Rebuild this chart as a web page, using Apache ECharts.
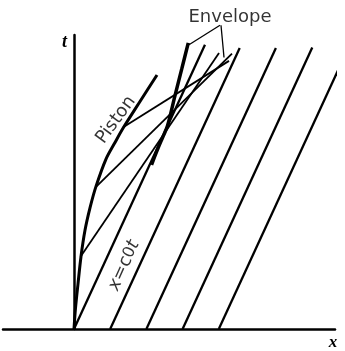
<!DOCTYPE html>
<html><head><meta charset="utf-8">
<script src="https://cdn.jsdelivr.net/npm/echarts@6/dist/echarts.min.js"></script>
<style>html,body{margin:0;padding:0;background:#fff}#c{width:345px;height:351px}</style>
</head><body><div id="c"></div>
<script>
// sound speed (slope dx/dt of the undisturbed characteristics)
const c0 = 0.45;
// x=c0t family: starting x on the t=0 axis and end time of each line
const waveStartX = [0, 1, 2, 3, 4];
const waveEndT = [8.04, 7.95, 7.95, 7.96, 7.95];
// piston path
const pistonX = [0, 0.041, 0.110, 0.193, 0.304, 0.442, 0.608, 0.884, 1.133, 1.362, 1.823, 2.293];
const pistonT = [0, 0.580, 1.271, 2.044, 2.790, 3.425, 4.033, 4.807, 5.276, 5.691, 6.436, 7.182];
// characteristics leaving the piston (start and end)
const charStartX = [0.180, 0.622, 1.381];
const charStartT = [2.044, 4.033, 5.718];
const charEndX = [4.006, 4.365, 4.282];
const charEndT = [7.804, 7.790, 7.583];
// envelope
const envelopeX = [2.141, 2.191, 2.320, 2.459, 2.583, 2.790, 2.975, 3.157];
const envelopeT = [4.641, 4.779, 5.110, 5.442, 5.746, 6.602, 7.348, 8.094];
// leader lines of the "Envelope" note
const leaderFromX = [4.033, 4.061];
const leaderFromT = [8.591, 8.591];
const leaderToX = [3.177, 4.144];
const leaderToT = [8.039, 7.680];
// labels
const labelText = ['Piston', 'x=c0t', 'Envelope'];
const labelX = [1.160, 1.381, 4.309];
const labelT = [5.912, 1.796, 8.812];
const labelAngle = [53.7, 65.8, 0];

const series = [];
const base = {type: 'line', silent: true, clip: false, symbol: 'none', animation: false};
waveStartX.forEach((x0, i) => {
  series.push(Object.assign({}, base, {
    data: [[x0, 0], [x0 + c0 * waveEndT[i], waveEndT[i]]],
    lineStyle: {color: '#000', width: 2.3}
  }));
});
series.push(Object.assign({}, base, {
  data: pistonX.map((x, i) => [x, pistonT[i]]), smooth: 0.3,
  lineStyle: {color: '#000', width: 3}
}));
charStartX.forEach((x, i) => {
  series.push(Object.assign({}, base, {
    data: [[x, charStartT[i]], [charEndX[i], charEndT[i]]],
    lineStyle: {color: '#000', width: 1.8}
  }));
});
series.push(Object.assign({}, base, {
  data: envelopeX.map((x, i) => [x, envelopeT[i]]), smooth: 0.3,
  lineStyle: {color: '#000', width: 3.5}
}));
leaderFromX.forEach((x, i) => {
  series.push(Object.assign({}, base, {
    data: [[x, leaderFromT[i]], [leaderToX[i], leaderToT[i]]],
    lineStyle: {color: '#000', width: 1.3}
  }));
});
series.push({
  type: 'scatter', silent: true, animation: false, clip: false, symbolSize: 1,
  itemStyle: {color: 'transparent'},
  data: labelText.map((t, i) => ({
    value: [labelX[i], labelT[i]],
    label: {
      show: true, position: 'inside', rotate: labelAngle[i],
      formatter: i === 1 ? '{i|x}={n|c}{s|0}{i|t}' : t
    }
  })),
  label: {
    color: '#000', fontFamily: 'DejaVu Sans', fontSize: 18,
    rich: {
      i: {fontStyle: 'italic', fontFamily: 'DejaVu Sans', fontSize: 18, color: '#000'},
      n: {fontFamily: 'DejaVu Sans', fontSize: 18, color: '#000'},
      s: {fontFamily: 'DejaVu Sans', fontSize: 16, color: '#000'}
    }
  }
});

const chart = echarts.init(document.getElementById('c'), null, {renderer: 'canvas'});
chart.setOption({
  animation: false,
  backgroundColor: '#fff',
  grid: {left: 3, right: 10, top: 35, bottom: 15, containLabel: false},
  xAxis: {
    type: 'value', min: -1.961, max: 7.21,
    name: 'x', nameLocation: 'end', nameGap: -2,
    nameTextStyle: {fontFamily: 'Liberation Serif', fontStyle: 'italic', fontWeight: 'bold', fontSize: 17, color: '#000', align: 'center', verticalAlign: 'top', padding: [5, 0, 0, 0]},
    axisLine: {show: true, onZero: true, lineStyle: {color: '#000', width: 2.5}},
    axisTick: {show: false}, axisLabel: {show: false}, splitLine: {show: false}
  },
  yAxis: {
    type: 'value', min: 0, max: 8.315,
    name: 't', nameLocation: 'end', nameGap: -7.5,
    nameTextStyle: {fontFamily: 'Liberation Serif', fontStyle: 'italic', fontWeight: 'bold', fontSize: 18, color: '#000', align: 'right', verticalAlign: 'middle', padding: [0, 7, 0, 0]},
    axisLine: {show: true, onZero: true, lineStyle: {color: '#000', width: 2.5}},
    axisTick: {show: false}, axisLabel: {show: false}, splitLine: {show: false}
  },
  series: series
});
</script></body></html>
